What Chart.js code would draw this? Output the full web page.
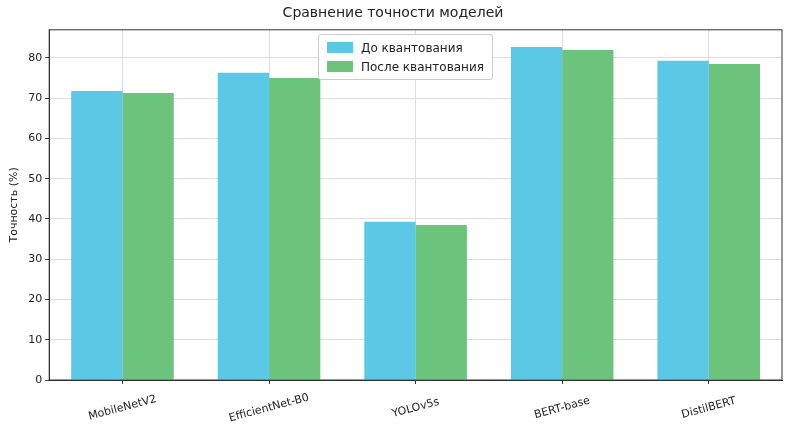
<!DOCTYPE html>
<html><head><meta charset="utf-8">
<script src="https://cdn.jsdelivr.net/npm/chart.js"></script>
<style>
body{margin:0;background:#fff;font-family:"DejaVu Sans",sans-serif}
#wrap{position:relative;width:800px;height:439px}
#leg{position:absolute;left:318px;top:34px;background:rgba(255,255,255,0.9);border:1px solid #ccc;border-radius:3px;padding:3px 8px;font-size:12px;color:#222}
#leg div{display:flex;align-items:center;height:19px}
#leg span{display:inline-block;width:26px;height:11px;margin-right:8px}
</style></head><body>
<div id="wrap"><canvas id="c" width="800" height="439"></canvas>
<div id="leg"><div><span style="background:#5bc8e6"></span>До квантования</div><div><span style="background:#6cc47c"></span>После квантования</div></div></div>
<script>
const categories=["MobileNetV2","EfficientNet-B0","YOLOv5s","BERT-base","DistilBERT"];
const before=[71.8,76.3,39.3,82.7,79.3];
const after=[71.3,75.0,38.5,82.0,78.5];
const yTicks=[0,10,20,30,40,50,60,70,80];
new Chart(document.getElementById('c'),{type:'bar',
data:{labels:categories,datasets:[
{label:'До квантования',data:before,backgroundColor:'#5bc8e6'},
{label:'После квантования',data:after,backgroundColor:'#6cc47c'}]},
options:{responsive:false,animation:false,
layout:{padding:{left:4,right:18,top:-3,bottom:55}},
datasets:{bar:{categoryPercentage:0.7,barPercentage:1}},
plugins:{legend:{display:false},tooltip:{enabled:false},
title:{display:true,text:'Сравнение точности моделей',color:'#222',font:{size:14,family:'DejaVu Sans',weight:'normal'},padding:{top:8,bottom:8}}},
scales:{
x:{grid:{offset:false,color:'#ddd',drawTicks:true,tickColor:'#333',tickLength:4},border:{color:'#333'},
ticks:{display:false}},
y:{min:0,max:87,afterBuildTicks:a=>{a.ticks=yTicks.map(v=>({value:v}))},
grid:{color:'#ddd',tickColor:'#333',tickLength:4},border:{color:'#333'},
title:{display:true,text:'Точность (%)',color:'#222',font:{size:11,family:'DejaVu Sans'}},
ticks:{color:'#222',font:{size:11,family:'DejaVu Sans'}}}}},
plugins:[{id:'frame',afterDraw(c){const a=c.chartArea,x=c.ctx,s=c.scales.x;x.save();x.strokeStyle='#333';x.lineWidth=1;x.strokeRect(a.left,a.top,a.right-a.left,a.bottom-a.top);
x.fillStyle='#222';x.font='11px "DejaVu Sans"';x.textAlign='center';x.textBaseline='middle';
categories.forEach((l,i)=>{x.save();x.translate(s.getPixelForTick(i),a.bottom+28);x.rotate(-15*Math.PI/180);x.fillText(l,0,0);x.restore();});
x.restore();}}]
});
</script></body></html>
